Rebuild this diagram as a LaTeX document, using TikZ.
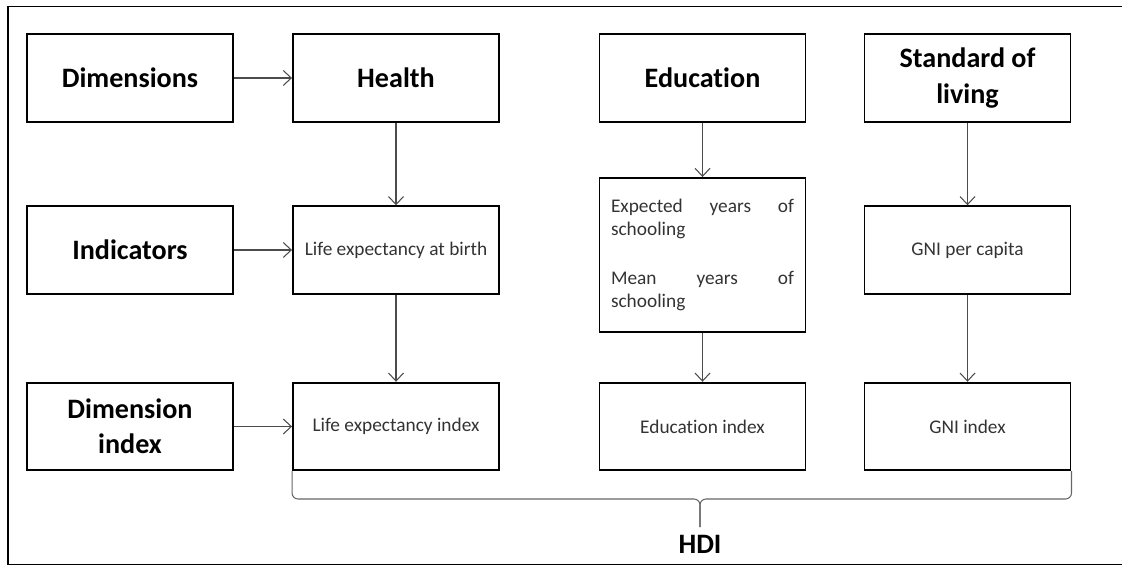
\documentclass[tikz,border=0pt]{standalone}
\usepackage{fontspec}
\setmainfont{Carlito}[Ligatures=NoCommon]
\usetikzlibrary{arrows.meta,positioning}
\hyphenpenalty=10000

\begin{document}
\begin{tikzpicture}[
  bigbox/.style={draw, line width=1.1pt, minimum width=4.12cm, minimum height=1.75cm,
    align=center, font=\fontsize{16}{20}\selectfont\bfseries},
  smallbox/.style={draw, line width=1.1pt, minimum width=4.12cm, minimum height=1.75cm,
    align=center, text=black!80, font=\fontsize{11}{13}\selectfont},
  link/.style={draw=black!70, line width=0.6pt, -{Straight Barb[length=1.6mm,width=3mm]}},
  hdibrace/.style={draw=black!60, line width=0.6pt, rounded corners=0.12cm}
]
\useasboundingbox (0,0) rectangle (22.44,11.34);
% outer frame, right side runs off the page
\draw[line width=1.1pt] (22.7,11.21) -- (0.16,11.21) -- (0.16,0.05) -- (22.7,0.05);

% dimensions
\node[bigbox] (dims)   at (2.60,9.78)  {Dimensions};
\node[bigbox] (health) at (7.92,9.78)  {Health};
\node[bigbox] (educ)   at (14.05,9.78) {Education};
\node[bigbox] (living) at (19.35,9.78) {Standard of\\living};

% indicators
\node[bigbox]   (indic)     at (2.60,6.34)  {Indicators};
\node[smallbox] (lifebirth) at (7.92,6.34)  {Life expectancy at birth};
\node[smallbox, minimum height=3.08cm, text width=3.66cm, align=justify] (schooling) at (14.05,6.24)
  {Expected years of schooling\par\vspace{0.54cm}Mean years of schooling};
\node[smallbox] (gnipc)     at (19.35,6.34) {GNI per capita};

% dimension index
\node[bigbox]   (dimidx)  at (2.60,2.81)  {Dimension\\index};
\node[smallbox] (lifeidx) at (7.92,2.81)  {Life expectancy index};
\node[smallbox] (eduidx)  at (14.05,2.81) {Education index};
\node[smallbox] (gniidx)  at (19.35,2.81) {GNI index};

\draw[link] (dims) -- (health);
\draw[link] (indic) -- (lifebirth);
\draw[link] (dimidx) -- (lifeidx);
\draw[link] (health) -- (lifebirth);
\draw[link] (lifebirth) -- (lifeidx);
\draw[link] (educ) -- (schooling);
\draw[link] (schooling) -- (eduidx);
\draw[link] (living) -- (gnipc);
\draw[link] (gnipc) -- (gniidx);

% brace under the index row
\coordinate (hdimid) at (14.0,1.36);
\coordinate (hditip) at (14.0,0.80);
\draw[hdibrace] (lifeidx.south west) |- (hdimid) -- (hditip);
\draw[hdibrace] (gniidx.south east) |- (hdimid) -- (hditip);
\node[below=0.05cm of hditip, font=\fontsize{16}{20}\selectfont\bfseries] (hdi) {HDI};
\end{tikzpicture}
\end{document}
